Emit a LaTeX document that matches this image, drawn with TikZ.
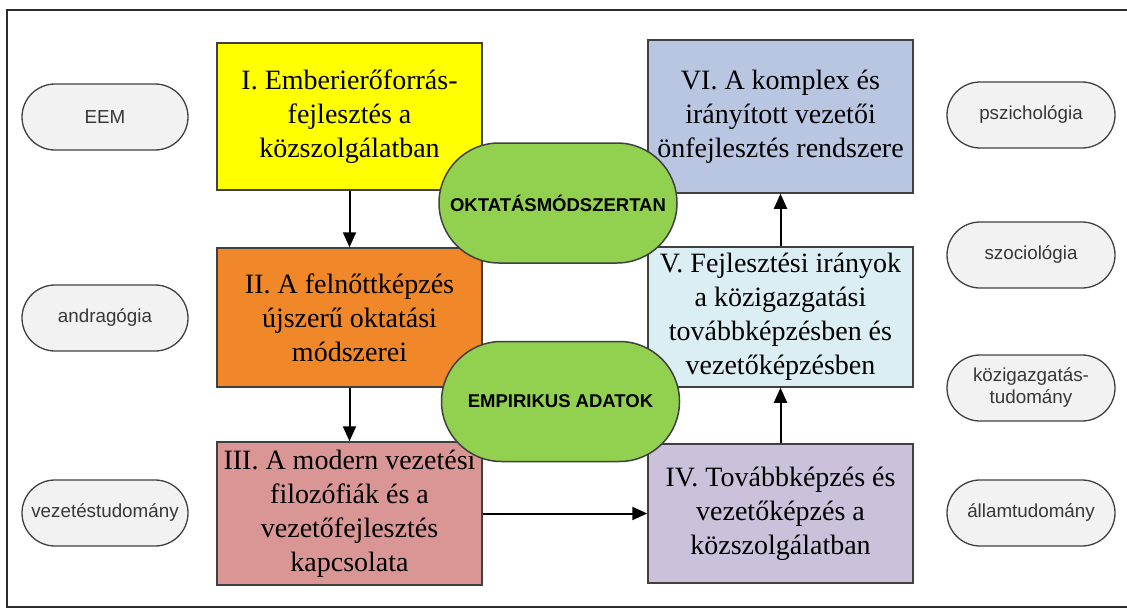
\documentclass[tikz,border=0pt]{standalone}
\usepackage{fontspec}
\setmainfont{Liberation Serif}
\setsansfont{Liberation Sans}
\usepackage{tikz}
\usetikzlibrary{arrows.meta,positioning}

\definecolor{frameline}{RGB}{45,45,45}
\definecolor{boxline}{RGB}{64,64,64}
\definecolor{chyellow}{RGB}{255,255,0}
\definecolor{chorange}{RGB}{240,135,40}
\definecolor{chrose}{RGB}{217,150,148}
\definecolor{chlavender}{RGB}{204,193,218}
\definecolor{chpaleblue}{RGB}{219,238,244}
\definecolor{chsteel}{RGB}{184,198,226}
\definecolor{methodgreen}{RGB}{146,208,80}
\definecolor{fieldfill}{RGB}{242,242,242}
\definecolor{fieldtext}{RGB}{55,55,55}

\begin{document}
\begin{tikzpicture}[x=1pt,y=-1pt,
    chapter/.style={draw=boxline, line width=1.5pt, minimum width=265pt, inner xsep=2pt, inner ysep=0pt,
      align=center, font=\fontsize{28}{34}\selectfont},
    field/.style={draw=boxline, fill=fieldfill, line width=1.3pt, rounded corners=33pt,
      minimum width=166pt, minimum height=66pt, align=center, text=fieldtext,
      font=\sffamily\fontsize{18.8}{22}\selectfont},
    method/.style={draw=boxline, fill=methodgreen, line width=1.5pt, rounded corners=60pt,
      minimum width=238pt, minimum height=120pt, font=\sffamily\bfseries\fontsize{18.5}{22}\selectfont},
    flow/.style={-{Triangle[width=13pt,length=15pt]}, line width=2pt}
  ]
  \useasboundingbox (0,0) rectangle (1127,610);
  % frame, cut off on the right
  \draw[frameline, line width=2pt] (1127,10) -- (7,10) -- (7,607) -- (1127,607);

  % the six chapters
  \node[chapter, fill=chyellow,   minimum height=147pt] (ch1) at (349.5,116.5) {I. Emberierőforrás-\\fejlesztés a\\közszolgálatban};
  \node[chapter, fill=chorange,   minimum height=139pt] (ch2) at (349.5,317.5) {II. A felnőttképzés\\újszerű oktatási\\módszerei};
  \node[chapter, fill=chrose,     minimum height=143pt] (ch3) at (349.5,513.5) {III. A modern vezetési\\filozófiák és a\\vezetőfejlesztés\\kapcsolata};
  \node[chapter, fill=chlavender, minimum height=139pt] (ch4) at (780.5,513.5) {IV. Továbbképzés és\\vezetőképzés a\\közszolgálatban};
  \node[chapter, fill=chpaleblue, minimum height=140pt] (ch5) at (780.5,317) {V. Fejlesztési irányok\\a közigazgatási\\továbbképzésben és\\vezetőképzésben};
  \node[chapter, fill=chsteel,    minimum height=153pt] (ch6) at (780.5,116.5) {VI. A komplex és\\irányított vezetői\\önfejlesztés rendszere};

  % order of the chapters
  \draw[flow] (ch1) -- (ch2);
  \draw[flow] (ch2) -- (ch3);
  \draw[flow] (ch3) -- (ch4);
  \draw[flow] (ch4) -- (ch5);
  \draw[flow] (ch5) -- (ch6);

  % methods in the middle
  \node[method] (didactics) at (558,203) {OKTATÁSMÓDSZERTAN};
  \node[method] (empirical) at (560.5,401.5) {EMPIRIKUS ADATOK};

  % related fields, left
  \node[field] (eem)    at (105,117) {EEM};
  \node[field] (andrag) at (105,318) {andragógia};
  \node[field] (mgmt)   at (105,513) {vezetéstudomány};
  % related fields, right
  \node[field, minimum width=168pt] (psych)  at (1031,115) {pszichológia};
  \node[field, minimum width=168pt] (socio)  at (1031,255) {szociológia};
  \node[field, minimum width=168pt] (pubadm) at (1031,388) {közigazgatás-\\tudomány};
  \node[field, minimum width=168pt] (state)  at (1031,513) {államtudomány};
\end{tikzpicture}
\end{document}
